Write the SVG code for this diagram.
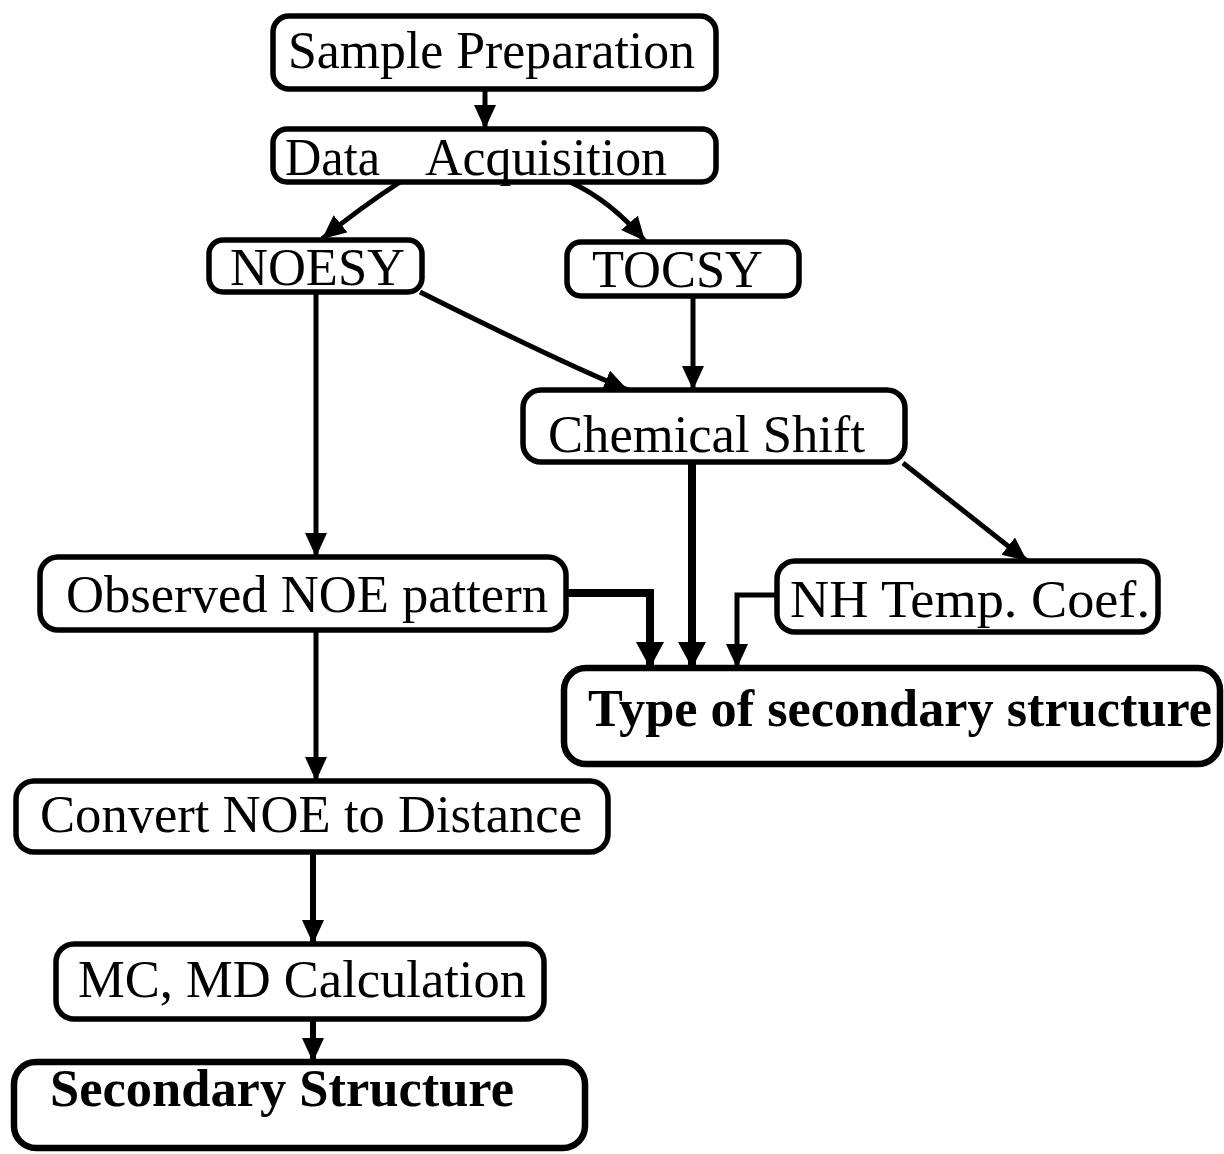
<svg xmlns="http://www.w3.org/2000/svg" width="1224" height="1154" viewBox="0 0 1224 1154">
<defs>
<style>
.box{fill:#fff;stroke:#000;stroke-width:5.5}
.boxb{fill:#fff;stroke:#000;stroke-width:6.5}
.t{font-family:"Liberation Serif","Times New Roman",serif;font-size:52px;fill:#000}
.tb{font-family:"Liberation Serif","Times New Roman",serif;font-size:53px;font-weight:bold;fill:#000}
.c{fill:none;stroke:#000;stroke-width:5;marker-end:url(#a)}
.ck{fill:none;stroke:#000;stroke-width:8;marker-end:url(#b)}
</style>
<marker id="a" markerUnits="userSpaceOnUse" markerWidth="26" markerHeight="24" refX="24" refY="11" orient="auto">
<path d="M0,0 L24,11 L0,22 z" fill="#000"/>
</marker>
<marker id="b" markerUnits="userSpaceOnUse" markerWidth="28" markerHeight="30" refX="26" refY="14" orient="auto">
<path d="M0,0 L26,14 L0,28 z" fill="#000"/>
</marker>
</defs>
<rect width="1224" height="1154" fill="#fff"/>
<g id="connectors">
<path class="c" d="M485,89 L485,129"/>
<path class="c" d="M400,182 Q360,208 322,239"/>
<path class="c" d="M570,182 Q610,200 645,241"/>
<path class="c" d="M420,292 Q560,362 628,390"/>
<path class="c" d="M693,296 L693,390"/>
<path class="c" d="M316,292 L316,557"/>
<path class="ck" d="M692,462 L692,668"/>
<path class="c" d="M903,463 L1027,561"/>
<path class="ck" d="M566,593 L650,593 L650,668"/>
<path class="c" d="M777,595 L737,595 L737,668"/>
<path class="c" d="M316,630 L316,781"/>
<path class="c" style="stroke-width:6" d="M313,852 L313,944"/>
<path class="c" style="stroke-width:6" d="M313,1019 L313,1062"/>
</g>
<g id="n1"><rect class="box" x="273" y="16" width="443" height="73" rx="16"/><text class="t" x="288" y="68" textLength="407" lengthAdjust="spacingAndGlyphs">Sample Preparation</text></g>
<g id="n2"><rect class="box" x="273" y="129" width="443" height="53" rx="14"/><text class="t" y="175"><tspan x="285" textLength="95" lengthAdjust="spacingAndGlyphs">Data</tspan><tspan x="425" textLength="242" lengthAdjust="spacingAndGlyphs">Acquisition</tspan></text></g>
<g id="n3"><rect class="box" x="209" y="240" width="213" height="52" rx="14"/><text class="t" x="230" y="285" textLength="175" lengthAdjust="spacingAndGlyphs">NOESY</text></g>
<g id="n4"><rect class="box" x="567" y="242" width="232" height="54" rx="14"/><text class="t" x="592" y="287" textLength="171" lengthAdjust="spacingAndGlyphs">TOCSY</text></g>
<g id="n5"><rect class="box" x="523" y="390" width="382" height="72" rx="18"/><text class="t" x="548" y="452" textLength="317" lengthAdjust="spacingAndGlyphs">Chemical Shift</text></g>
<g id="n6"><rect class="box" x="40" y="557" width="526" height="73" rx="18"/><text class="t" x="66" y="612" textLength="482" lengthAdjust="spacingAndGlyphs">Observed NOE pattern</text></g>
<g id="n7"><rect class="box" x="777" y="561" width="381" height="71" rx="18"/><text class="t" x="790" y="617" textLength="360" lengthAdjust="spacingAndGlyphs">NH Temp. Coef.</text></g>
<g id="n8"><rect class="boxb" x="564" y="668" width="656" height="96" rx="22"/><text class="tb" x="588" y="726" textLength="624" lengthAdjust="spacingAndGlyphs">Type of secondary structure</text></g>
<g id="n9"><rect class="box" x="16" y="781" width="592" height="71" rx="18"/><text class="t" x="40" y="832" textLength="542" lengthAdjust="spacingAndGlyphs">Convert NOE to Distance</text></g>
<g id="n10"><rect class="box" x="56" y="944" width="488" height="75" rx="18"/><text class="t" x="78" y="997" textLength="448" lengthAdjust="spacingAndGlyphs">MC, MD Calculation</text></g>
<g id="n11"><rect class="boxb" x="14" y="1062" width="571" height="86" rx="22"/><text class="tb" x="50" y="1106" textLength="464" lengthAdjust="spacingAndGlyphs">Secondary Structure</text></g>
</svg>
